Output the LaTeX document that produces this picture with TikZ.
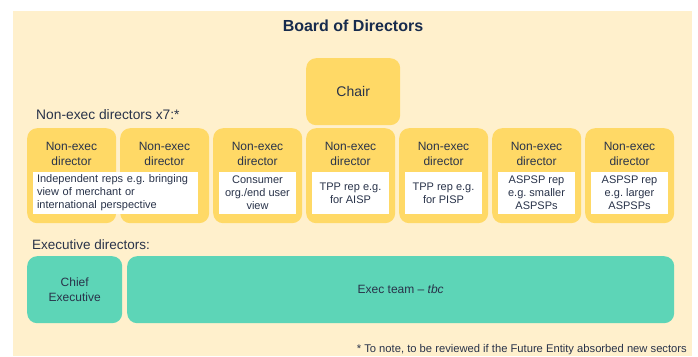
\documentclass[tikz,border=0pt]{standalone}
\usepackage{fontspec}
\setmainfont{Liberation Sans}
\usetikzlibrary{positioning}

\definecolor{boardbg}{HTML}{FFF0CC}
\definecolor{nedyellow}{HTML}{FFD966}
\definecolor{execteal}{HTML}{5DD5B7}
\definecolor{inktext}{HTML}{29334A}
\definecolor{titleblue}{HTML}{172B4D}

\frenchspacing
\tikzset{
  nedbox/.style={fill=nedyellow, rounded corners=10pt, anchor=north west,
    minimum width=89pt, minimum height=95pt, inner sep=0pt},
  nedhead/.style={text=inktext, align=center, inner sep=0pt,
    font=\fontsize{12}{15}\selectfont},
  repbox/.style={fill=white, text=inktext, align=center, inner sep=0pt,
    minimum width=77pt, minimum height=42pt, font=\fontsize{11}{13}\selectfont\frenchspacing},
  execbox/.style={fill=execteal, rounded corners=10pt, anchor=north west, text=inktext,
    align=center, minimum height=67pt, inner sep=0pt, font=\fontsize{12}{15}\selectfont},
  grouplabel/.style={anchor=west, text=inktext, inner sep=0pt, font=\fontsize{13.8}{16}\selectfont}
}

\begin{document}
\begin{tikzpicture}[x=1pt,y=-1pt]
    \useasboundingbox (0,0) rectangle (698,356);
    \fill[boardbg] (13,11) rectangle (692,356);

    \node[text=titleblue, font=\fontsize{16}{19}\bfseries] (title) at (353,25.5) {Board of Directors};

    % Chair
    \node[nedbox, minimum width=94pt, minimum height=67pt, text=inktext,
          font=\fontsize{14}{17}\selectfont] (chair) at (306,58) {Chair};

    \node[grouplabel] (nedlabel) at (36,115) {Non-exec directors x7:*};

    % Non-exec directors
    \node[nedbox] (ned1) at (27,128) {};
    \node[nedbox] (ned2) at (120,128) {};
    \node[nedbox] (ned3) at (213,128) {};
    \node[nedbox] (ned4) at (306,128) {};
    \node[nedbox] (ned5) at (399,128) {};
    \node[nedbox] (ned6) at (492,128) {};
    \node[nedbox] (ned7) at (585,128) {};

    \node[nedhead] (head1) at (71.5,153.5) {Non-exec\\director};
    \node[nedhead] (head2) at (164.5,153.5) {Non-exec\\director};
    \node[nedhead] (head3) at (257.5,153.5) {Non-exec\\director};
    \node[nedhead] (head4) at (350.5,153.5) {Non-exec\\director};
    \node[nedhead] (head5) at (443.5,153.5) {Non-exec\\director};
    \node[nedhead] (head6) at (536.5,153.5) {Non-exec\\director};
    \node[nedhead] (head7) at (629.5,153.5) {Non-exec\\director};

    % who each seat represents
    \node[repbox, align=left, text width=157pt, inner xsep=4pt, minimum width=165pt]
          (rep1) at (115.5,193) {Independent reps e.g. bringing\\view of merchant or\\international perspective};
    \node[repbox] (rep3) at (257.5,193) {Consumer\\org./end user\\view};
    \node[repbox] (rep4) at (350.5,193) {TPP rep e.g.\\for AISP};
    \node[repbox] (rep5) at (443.5,193) {TPP rep e.g.\\for PISP};
    \node[repbox] (rep6) at (536.5,193) {ASPSP rep\\e.g. smaller\\ASPSPs};
    \node[repbox] (rep7) at (629.5,193) {ASPSP rep\\e.g. larger\\ASPSPs};

    % Executive directors
    \node[grouplabel, font=\fontsize{13.5}{16}\selectfont] (execlabel) at (32,245) {Executive directors:};
    \node[execbox, minimum width=95pt] (ceo) at (27,256) {Chief\\Executive};
    \node[execbox, minimum width=547pt] (execteam) at (127,256) {Exec team -- \textit{tbc}};

    \node[anchor=east, text=inktext, inner sep=0pt, font=\fontsize{11.2}{13}\selectfont]
          (note) at (687,350) {* To note, to be reviewed if the Future Entity absorbed new sectors};
\end{tikzpicture}
\end{document}
